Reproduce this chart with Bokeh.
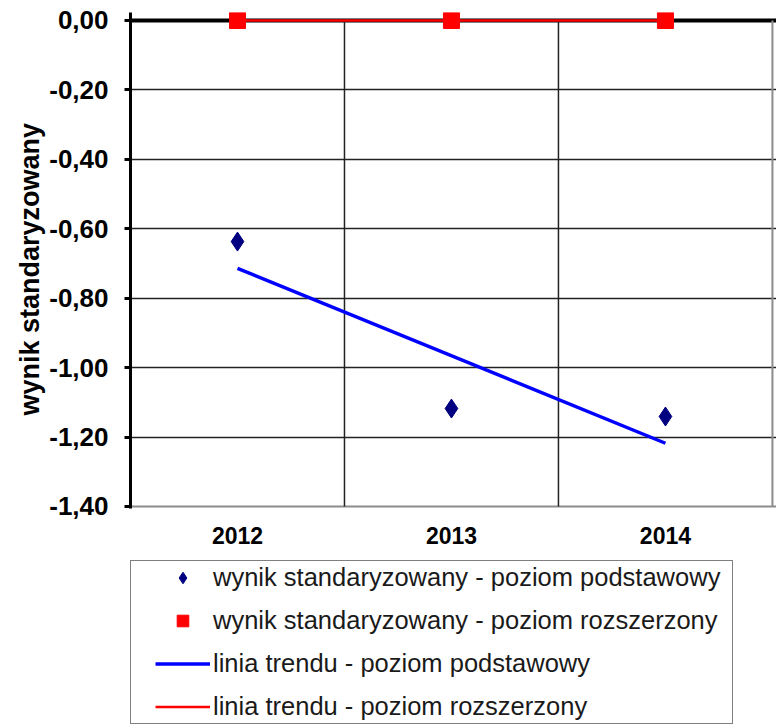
from bokeh.plotting import figure
from bokeh.models import (FixedTicker, CustomJSTickFormatter, Span, Legend, LegendItem, Range1d)
from bokeh.core.properties import value
from bokeh.embed import file_html
from bokeh.resources import INLINE

# ---- data ----
years = [2012, 2013, 2014]
year_labels = ["2012", "2013", "2014"]
wynik_podstawowy = [-0.637, -1.118, -1.141]
wynik_rozszerzony = [0.0, 0.0, 0.0]
trend_years = [2012, 2014]
trend_podstawowy = [-0.714, -1.218]
trend_rozszerzony = [0.0, 0.0]
y_ticks = [0.0, -0.2, -0.4, -0.6, -0.8, -1.0, -1.2, -1.4]
y_grid = [-0.2, -0.4, -0.6, -0.8, -1.0, -1.2]
x_bounds = [2012.5, 2013.5]
x_edge = [2014.5]
y_title = "wynik standaryzowany"
labels = [
    "wynik standaryzowany - poziom podstawowy",
    "wynik standaryzowany - poziom rozszerzony",
    "linia trendu - poziom podstawowy",
    "linia trendu - poziom rozszerzony",
]
FONT = "Liberation Sans"
y_top, y_bot = y_ticks[0], y_ticks[-1]

p = figure(width=776, height=728, output_backend="svg", toolbar_location=None,
           x_range=Range1d(2011.5, 2014.519), y_range=Range1d(-2.0398, 0.023),
           x_axis_location=None,
           min_border_left=130, min_border_right=0, min_border_top=12, min_border_bottom=0)
p.outline_line_color = None
p.background_fill_color = "white"
p.border_fill_color = "white"

# y axis
ya = p.yaxis[0]
ya.bounds = (-1.405, 0.023)
ya.ticker = FixedTicker(ticks=y_ticks)
ya.formatter = CustomJSTickFormatter(code="return tick.toFixed(2).replace('.', ',');")
ya.major_label_text_font = FONT
ya.major_label_text_font_size = "26px"
ya.major_label_text_font_style = "bold"
ya.major_label_text_color = "black"
ya.major_tick_out = 6
ya.major_tick_in = 0
ya.major_tick_line_width = 3
ya.minor_tick_line_color = None
ya.axis_line_width = 3
ya.axis_line_color = "black"
ya.major_label_standoff = 16
# non-breaking spaces lift the title to the middle of the bounded axis
ya.axis_label = "\u00a0" * 27 + y_title
ya.axis_label_text_font = FONT
ya.axis_label_text_font_size = "27px"
ya.axis_label_text_font_style = "bold"
ya.axis_label_text_color = "black"
ya.axis_label_standoff = 1

# grids
p.xgrid.grid_line_color = None
p.ygrid.ticker = FixedTicker(ticks=y_grid)
p.ygrid.grid_line_color = "#222222"
p.ygrid.grid_line_width = 1.5

zero = Span(location=y_top, dimension="width", line_color="black", line_width=4, level="underlay")
p.add_layout(zero)
bottom_border = Span(location=y_bot, dimension="width", line_color="#8c8c8c", line_width=2,
                     level="underlay")
p.add_layout(bottom_border)

# category separators and right border of the plot area
p.segment(x0=x_bounds, y0=[y_bot] * len(x_bounds), x1=x_bounds, y1=[y_top] * len(x_bounds),
          line_color="#222222", line_width=1.5)
p.segment(x0=x_edge, y0=[y_bot], x1=x_edge, y1=[y_top], line_color="#8c8c8c", line_width=2)

# category labels under the plot area
p.text(x=years, y=[y_bot] * len(years), text=year_labels, y_offset=29,
       text_font=value(FONT), text_font_size="23px", text_font_style="bold",
       text_color="black", text_align="center", text_baseline="middle")

# glyphs
r_rtrend = p.line(trend_years, trend_rozszerzony, line_color="#ff0000", line_width=2.5)
r_rmark = p.scatter(years, wynik_rozszerzony, marker="square", size=16,
                    fill_color="#ff0000", line_color="#ff0000")
r_ptrend = p.line(trend_years, trend_podstawowy, line_color="#0000ff", line_width=3.5)
r_pmark = p.scatter(years, wynik_podstawowy, marker="diamond", size=19,
                    fill_color="#000080", line_color="#000080")

legend = Legend(items=[
    LegendItem(label=labels[0], renderers=[r_pmark]),
    LegendItem(label=labels[1], renderers=[r_rmark]),
    LegendItem(label=labels[2], renderers=[r_ptrend]),
    LegendItem(label=labels[3], renderers=[r_rtrend]),
], location=(0, 4), orientation="vertical", padding=2, spacing=14,
    glyph_width=55, glyph_height=29, label_height=29, label_standoff=3,
    label_width=517,
    title=" ", title_location="left", title_text_font_size="1px", title_standoff=21,
    label_text_font=FONT, label_text_font_size="25.5px", label_text_color="#1a1a1a",
    border_line_color="black", border_line_width=1.5, background_fill_color="white",
    background_fill_alpha=1, margin=0)
p.add_layout(legend)

open("out.html", "w").write(file_html(p, INLINE))
